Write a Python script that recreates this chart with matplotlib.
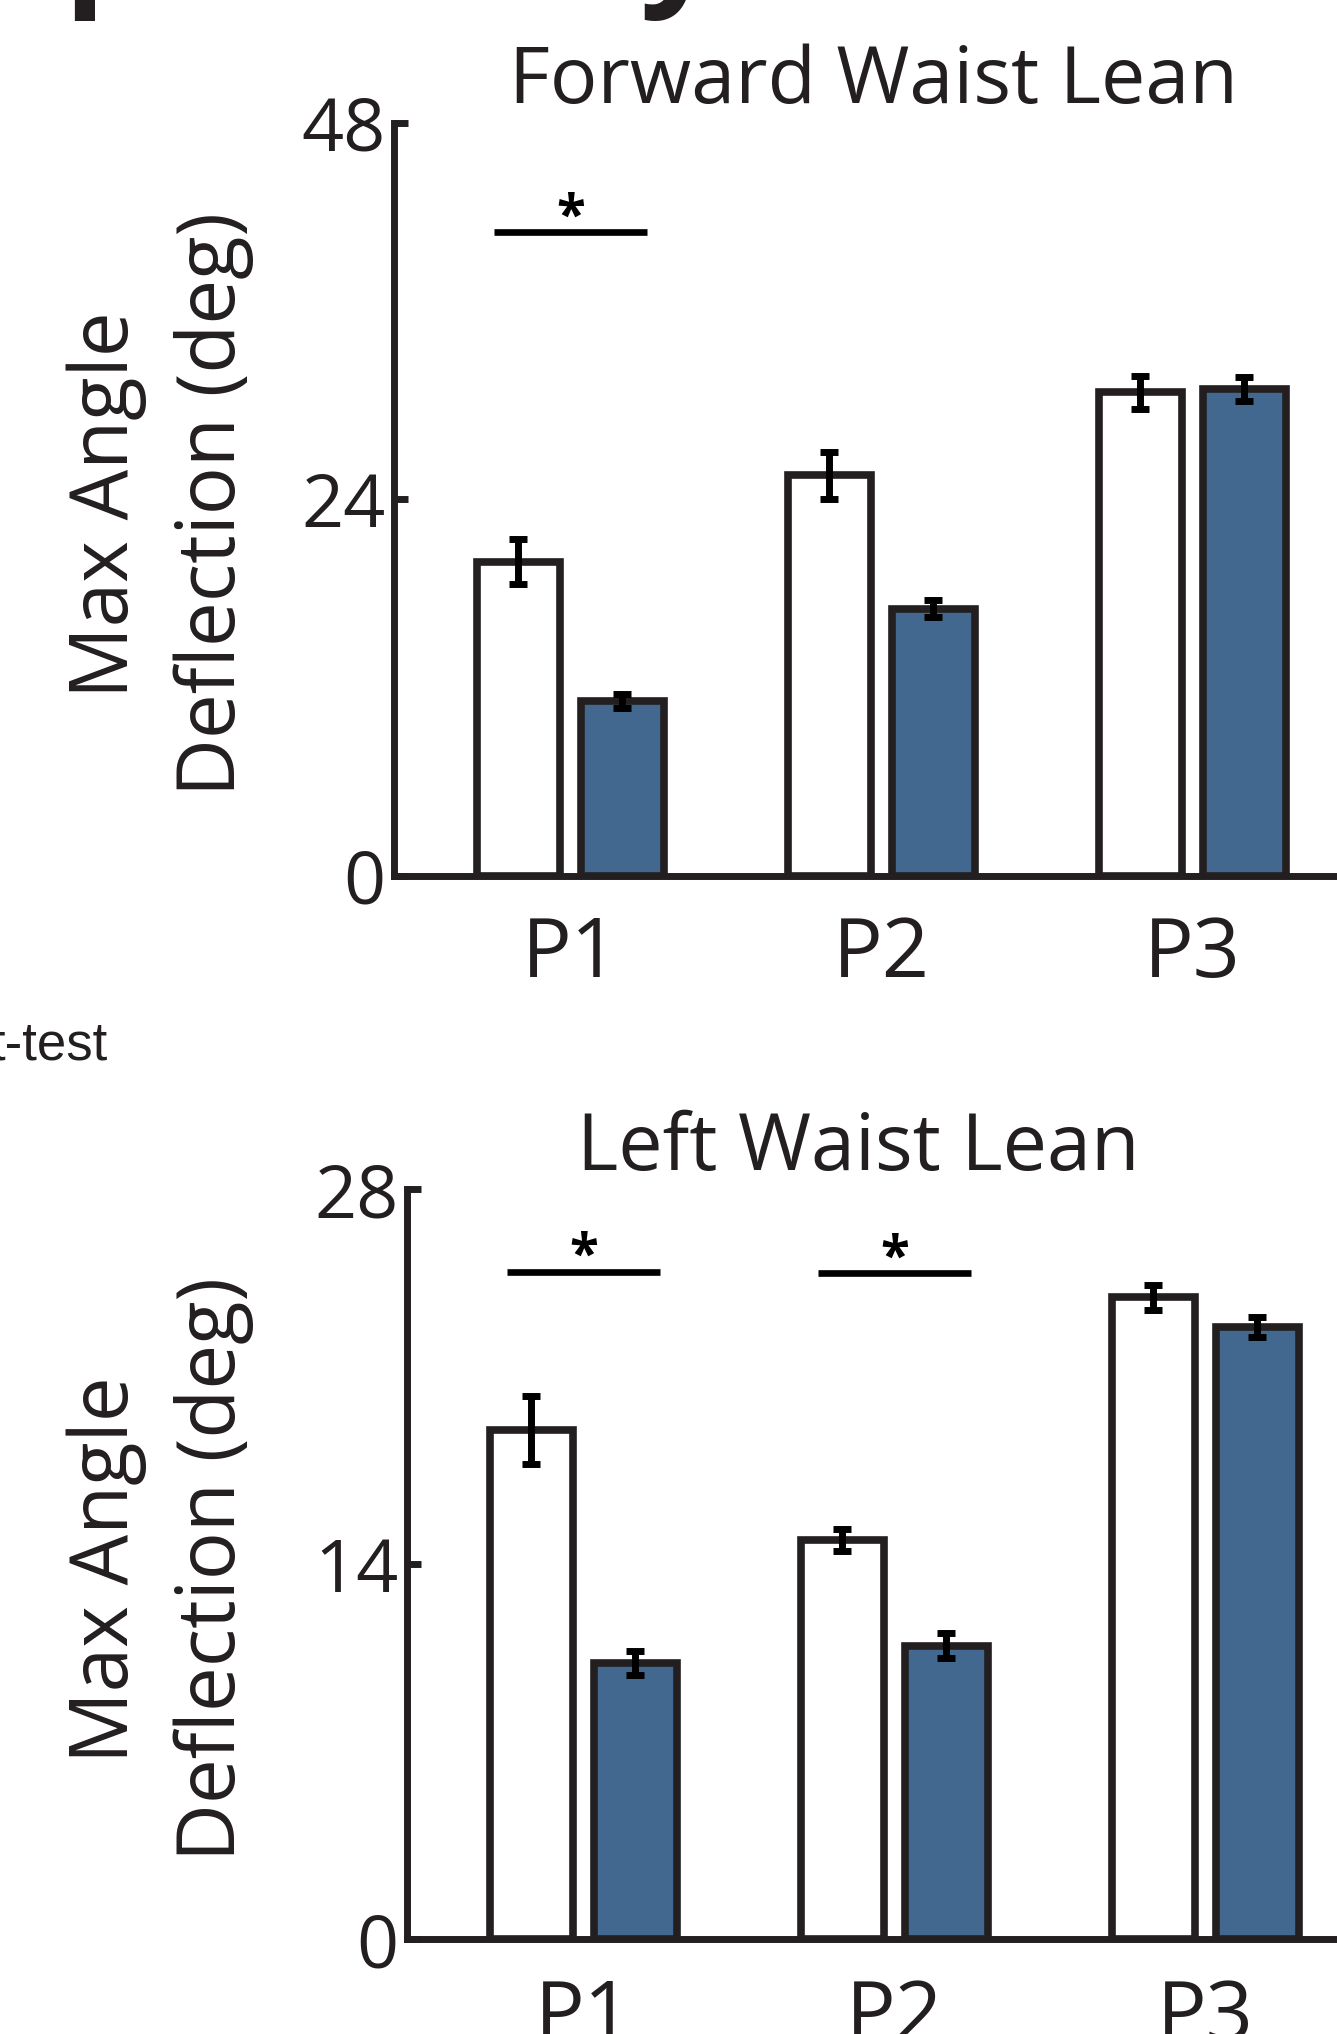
import numpy as np
import matplotlib.pyplot as plt

categories = ['P1', 'P2', 'P3']

# Forward waist lean (deg), open bars / filled bars, with error bars
forward_open = [20.0, 25.5, 30.8]
forward_open_err = [1.45, 1.5, 1.05]
forward_fill = [11.1, 17.0, 31.0]
forward_fill_err = [0.45, 0.55, 0.75]
forward_ticks = [0, 24, 48]
forward_sig = [(0, 41.0)]

# Left waist lean (deg)
left_open = [19.0, 14.9, 23.95]
left_open_err = [1.27, 0.4, 0.46]
left_fill = [10.3, 10.95, 22.85]
left_fill_err = [0.45, 0.46, 0.36]
left_ticks = [0, 14, 28]
left_sig = [(0, 24.9), (1, 24.85)]

plt.rcParams['font.family'] = ['Open Sans', 'DejaVu Sans']
ink = '#231f20'
blue = '#42688f'

W, H = 1337, 2034
fig = plt.figure(figsize=(W / 100, H / 100), dpi=100)

x = np.arange(1, len(categories) + 1)
bw = 0.267
off = 0.167
xspan = (0.433, 3.567)
axw = (xspan[1] - xspan[0]) * 311 / W


def panel(rect, title, title_x, a, a_err, b, b_err, ticks, sig, label_x):
    ax = fig.add_axes(rect)
    ax.bar(x - off, a, bw, color='white', edgecolor=ink, linewidth=5.5, zorder=2)
    ax.bar(x + off, b, bw, color=blue, edgecolor=ink, linewidth=5.5, zorder=2)
    ax.errorbar(x - off, a, yerr=a_err, fmt='none', ecolor='black',
                elinewidth=5, capsize=6.3, capthick=5, zorder=3)
    ax.errorbar(x + off, b, yerr=b_err, fmt='none', ecolor='black',
                elinewidth=5, capsize=6.3, capthick=5, zorder=3)
    for i, h in sig:
        ax.plot([x[i] - 0.245, x[i] + 0.245], [h, h], color='black',
                lw=4.8, solid_capstyle='butt', zorder=3)
        ax.text(x[i], h, '*', ha='center', va='baseline', fontsize=38,
                fontweight='bold', color='black')

    ax.set_xlim(xspan)
    ax.set_ylim(ticks[0], ticks[-1])
    ax.set_yticks(ticks)
    ax.set_xticks(x, categories)
    for s in ['top', 'right']:
        ax.spines[s].set_visible(False)
    for s in ['left', 'bottom']:
        ax.spines[s].set_linewidth(5)
        ax.spines[s].set_color(ink)
        ax.spines[s].set_capstyle('projecting')
    ax.tick_params(axis='y', direction='in', length=10, width=5, color=ink,
                   labelsize=53, pad=6, labelcolor=ink)
    ax.tick_params(axis='x', length=0, labelsize=59.5, pad=28, labelcolor=ink)
    ax.set_title(title, fontsize=57, pad=11.4, color=ink, x=title_x)
    ax.set_ylabel('Max Angle\nDeflection (deg)', fontsize=57.5, color=ink,
                  linespacing=1.437)
    ax.yaxis.set_label_coords(label_x, 0.493)
    return ax


panel([394 / W, (H - 875.5) / H, axw, 753 / H], 'Forward Waist Lean', 0.492,
      forward_open, forward_open_err, forward_fill, forward_fill_err,
      forward_ticks, forward_sig, (254.5 - 394) / (axw * W))
panel([407 / W, (H - 1939) / H, axw, 750 / H], 'Left Waist Lean', 0.463,
      left_open, left_open_err, left_fill, left_fill_err,
      left_ticks, left_sig, (254.5 - 407) / (axw * W))

# fragments of neighbouring panel text cut by the crop
fig.text(107.6 / W, 1 - 1059 / H, 't-test', ha='right', va='baseline',
         fontsize=38, color=ink, family='Liberation Sans')
fig.text(63 / W, 1 + 12 / H, 'p', ha='left', va='baseline', fontsize=100,
         fontweight='bold', color=ink)
fig.text(640 / W, 1 + 12 / H, 'y', ha='left', va='baseline', fontsize=100,
         fontweight='bold', color=ink)

fig.savefig('out.png', dpi=100)
